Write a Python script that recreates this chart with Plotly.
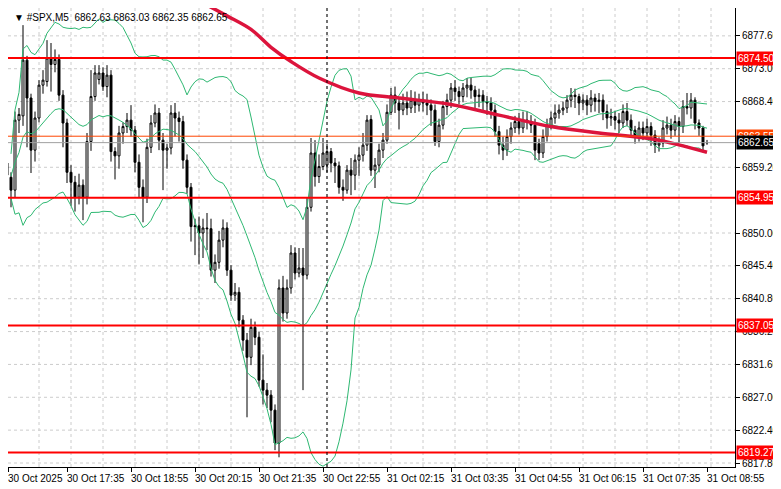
import numpy as np
import pandas as pd
import plotly.graph_objects as go

# M5 candles (bar index = position on the time axis)
opens = [6869.1, 6859.8, 6857.8, 6856.0, 6865.8, 6866.4, 6874.2, 6868.9, 6861.6, 6866.1,
         6870.7, 6871.2, 6874.5, 6873.6, 6874.3, 6869.3, 6865.4, 6858.5, 6857.1, 6855.0,
         6856.7, 6855.0, 6862.8, 6869.1, 6871.5, 6872.4, 6870.5, 6872.1, 6861.4, 6860.8,
         6864.0, 6864.9, 6865.8, 6864.4, 6859.9, 6856.4, 6855.0, 6862.0, 6865.4, 6866.8,
         6863.0, 6861.6, 6861.9, 6866.8, 6866.1, 6865.6, 6860.2, 6856.4, 6850.9, 6851.0,
         6850.0, 6850.7, 6850.6, 6844.8, 6845.9, 6849.0, 6850.7, 6844.8, 6841.3, 6841.7,
         6837.8, 6835.0, 6832.6, 6836.8, 6835.4, 6829.4, 6828.0, 6827.3, 6825.2, 6820.6,
         6842.3, 6838.8, 6842.3, 6847.2, 6844.4, 6845.1, 6844.1, 6853.6, 6861.2, 6857.9,
         6859.3, 6859.5, 6861.4, 6859.8, 6859.4, 6856.4, 6856.0, 6858.8, 6858.1, 6860.2,
         6860.9, 6862.3, 6865.9, 6858.8, 6859.5, 6861.6, 6863.0, 6866.9, 6869.3, 6868.2,
         6867.2, 6868.2, 6867.5, 6868.6, 6867.9, 6868.6, 6868.2, 6867.9, 6867.2, 6862.8,
         6865.1, 6867.7, 6868.6, 6870.3, 6869.8, 6869.1, 6870.3, 6870.7, 6870.0, 6869.1,
         6869.3, 6868.4, 6868.2, 6867.2, 6864.2, 6862.3, 6861.6, 6863.5, 6864.7, 6865.6,
         6864.7, 6865.8, 6865.6, 6865.1, 6862.5, 6861.2, 6863.5, 6865.1, 6866.1, 6866.8,
         6867.2, 6867.5, 6868.6, 6869.3, 6869.1, 6868.2, 6868.6, 6867.9, 6868.9, 6868.4,
         6868.6, 6867.0, 6866.1, 6866.3, 6865.8, 6865.4, 6867.0, 6865.8, 6864.4, 6863.5,
         6864.7, 6864.0, 6864.9, 6863.7, 6862.3, 6862.6, 6864.7, 6865.1, 6864.4, 6865.6,
         6864.9, 6867.7, 6867.5, 6868.6, 6865.4, 6864.7, 6862.63]
highs = [6871.4, 6861.0, 6858.5, 6867.0, 6867.5, 6879.1, 6874.8, 6869.5, 6867.0, 6871.4,
         6872.8, 6877.0, 6876.6, 6875.7, 6875.0, 6870.0, 6866.0, 6859.5, 6858.0, 6858.3,
         6857.5, 6864.0, 6872.8, 6873.5, 6873.5, 6873.2, 6873.5, 6872.8, 6862.0, 6865.0,
         6865.5, 6866.8, 6867.9, 6865.0, 6861.0, 6857.5, 6863.2, 6866.5, 6868.0, 6867.5,
         6864.0, 6862.5, 6867.9, 6868.2, 6867.0, 6866.4, 6861.0, 6857.0, 6852.0, 6852.3,
         6852.0, 6852.8, 6852.0, 6847.0, 6850.3, 6851.9, 6851.5, 6845.5, 6843.0, 6842.4,
         6838.5, 6836.0, 6838.0, 6837.6, 6836.2, 6833.0, 6829.0, 6828.0, 6826.0, 6843.5,
         6844.0, 6843.5, 6848.3, 6848.0, 6847.9, 6847.9, 6855.0, 6863.3, 6863.0, 6861.0,
         6863.3, 6862.5, 6861.9, 6860.5, 6860.0, 6857.5, 6859.5, 6860.5, 6861.0, 6862.0,
         6864.0, 6866.5, 6866.5, 6860.5, 6862.5, 6864.0, 6868.0, 6870.3, 6870.5, 6869.0,
         6869.5, 6869.8, 6870.0, 6869.8, 6869.5, 6869.8, 6869.5, 6868.7, 6868.0, 6866.0,
         6868.5, 6869.5, 6871.0, 6871.4, 6870.5, 6871.0, 6871.7, 6871.7, 6870.6, 6870.2,
         6870.0, 6869.2, 6869.0, 6868.0, 6865.0, 6863.5, 6864.5, 6865.5, 6866.4, 6866.8,
         6867.0, 6867.0, 6866.5, 6866.0, 6863.2, 6864.5, 6866.0, 6867.0, 6868.0, 6868.0,
         6868.4, 6869.3, 6870.3, 6870.2, 6869.5, 6869.4, 6869.3, 6870.0, 6869.5, 6869.6,
         6869.4, 6868.0, 6867.4, 6867.1, 6866.8, 6868.0, 6868.2, 6866.6, 6865.0, 6865.6,
         6865.6, 6866.0, 6865.5, 6864.4, 6863.4, 6865.8, 6866.3, 6866.0, 6866.5, 6866.2,
         6868.6, 6869.6, 6869.6, 6869.0, 6865.9, 6865.0, 6863.03]
lows = [6858.5, 6857.0, 6853.6, 6855.0, 6864.0, 6865.0, 6862.0, 6858.4, 6860.0, 6865.5,
        6869.5, 6870.5, 6869.8, 6872.5, 6868.5, 6862.0, 6857.0, 6853.8, 6853.0, 6854.0,
        6851.8, 6854.0, 6861.5, 6868.5, 6870.8, 6869.9, 6869.0, 6860.0, 6857.5, 6859.0,
        6862.5, 6864.0, 6863.5, 6858.5, 6855.0, 6851.5, 6854.2, 6861.2, 6864.8, 6861.6,
        6856.0, 6859.0, 6861.0, 6863.5, 6862.8, 6859.0, 6855.5, 6848.8, 6846.9, 6845.6,
        6846.5, 6847.6, 6843.9, 6843.0, 6845.0, 6848.0, 6844.0, 6840.5, 6840.5, 6836.8,
        6833.5, 6824.2, 6831.5, 6834.3, 6828.5, 6826.0, 6825.5, 6823.5, 6819.6, 6818.6,
        6837.6, 6838.0, 6841.5, 6843.5, 6843.8, 6828.0, 6843.5, 6853.0, 6856.5, 6857.0,
        6858.8, 6858.5, 6858.5, 6857.0, 6855.5, 6854.5, 6855.5, 6855.3, 6856.0, 6858.0,
        6860.0, 6861.5, 6858.0, 6856.3, 6858.5, 6860.5, 6862.5, 6866.5, 6866.8, 6864.5,
        6866.5, 6866.5, 6866.8, 6866.8, 6867.0, 6867.0, 6866.5, 6865.0, 6862.2, 6862.0,
        6864.5, 6866.5, 6867.5, 6868.5, 6868.0, 6868.3, 6869.0, 6868.8, 6867.5, 6867.6,
        6867.0, 6866.5, 6866.0, 6863.5, 6861.0, 6860.2, 6860.8, 6862.5, 6864.0, 6863.8,
        6864.0, 6864.5, 6864.0, 6860.2, 6860.2, 6860.5, 6862.8, 6864.5, 6865.3, 6866.0,
        6866.5, 6866.8, 6867.6, 6867.5, 6866.5, 6867.2, 6866.5, 6866.9, 6867.0, 6866.8,
        6865.8, 6864.6, 6865.0, 6864.5, 6864.0, 6864.7, 6865.0, 6863.5, 6862.5, 6862.8,
        6863.0, 6863.4, 6862.2, 6861.2, 6861.4, 6862.0, 6863.8, 6863.2, 6863.6, 6862.6,
        6864.0, 6866.6, 6866.0, 6864.5, 6863.6, 6861.3, 6862.35]
closes = [6859.8, 6858.1, 6856.0, 6865.8, 6866.6, 6874.2, 6868.9, 6861.6, 6866.1, 6870.7,
          6871.4, 6874.5, 6873.6, 6874.3, 6869.3, 6865.4, 6858.5, 6857.1, 6855.0, 6856.7,
          6855.0, 6862.8, 6869.1, 6872.4, 6872.4, 6870.5, 6872.1, 6861.4, 6860.8, 6864.0,
          6864.9, 6865.8, 6864.4, 6859.9, 6856.4, 6855.0, 6862.0, 6865.4, 6866.8, 6863.0,
          6861.6, 6861.9, 6866.8, 6866.1, 6865.6, 6860.2, 6856.4, 6850.9, 6851.0, 6850.0,
          6850.7, 6850.6, 6844.8, 6845.9, 6849.0, 6850.7, 6844.8, 6841.3, 6841.7, 6837.8,
          6835.0, 6832.6, 6836.8, 6835.4, 6829.4, 6828.0, 6827.3, 6825.2, 6820.6, 6842.3,
          6838.8, 6842.3, 6847.2, 6844.4, 6845.1, 6844.1, 6853.6, 6861.2, 6857.9, 6859.3,
          6861.2, 6861.4, 6859.8, 6859.4, 6856.4, 6856.0, 6858.8, 6858.1, 6860.2, 6860.9,
          6862.3, 6865.8, 6858.8, 6859.5, 6861.6, 6863.0, 6866.9, 6869.3, 6868.2, 6867.2,
          6868.2, 6867.5, 6868.6, 6867.9, 6868.6, 6868.2, 6867.9, 6867.2, 6862.8, 6865.1,
          6867.7, 6868.6, 6870.3, 6869.8, 6869.1, 6870.3, 6870.7, 6870.0, 6869.1, 6869.3,
          6868.4, 6868.2, 6867.2, 6864.2, 6862.3, 6861.6, 6863.5, 6864.7, 6865.6, 6864.7,
          6865.8, 6865.6, 6865.1, 6861.6, 6861.2, 6863.5, 6865.1, 6866.1, 6866.8, 6867.2,
          6867.5, 6868.6, 6869.3, 6869.1, 6868.2, 6868.6, 6867.9, 6868.9, 6868.4, 6868.6,
          6867.0, 6866.1, 6866.3, 6865.8, 6865.4, 6867.0, 6865.8, 6864.4, 6863.5, 6864.7,
          6864.0, 6864.9, 6863.7, 6862.3, 6862.6, 6864.7, 6865.1, 6864.4, 6865.6, 6864.9,
          6867.7, 6867.5, 6868.6, 6865.4, 6864.7, 6862.2, 6862.65]

# slow moving average, read at a few points (bar index, price)
ma_idx = [49, 56, 62, 67, 72, 79, 89, 99, 112, 124, 137, 149, 162, 170, 176]
ma_val = [6882.5, 6880.4, 6878.5, 6876.0, 6874.0, 6871.7, 6869.6, 6868.9, 6868.0,
          6866.5, 6864.9, 6864.0, 6863.2, 6862.2, 6861.3]

# horizontal levels
levels = [6874.50, 6854.95, 6837.05, 6819.27]
ask_price = 6863.55
bid_price = 6862.65

tick_idx = [1.25, 16, 32, 48, 64, 80, 96, 112, 128, 144, 160, 176]
tick_txt = ['30 Oct 2025', '30 Oct 17:35', '30 Oct 18:55', '30 Oct 20:15', '30 Oct 21:35',
            '30 Oct 22:55', '31 Oct 02:15', '31 Oct 03:35', '31 Oct 04:55', '31 Oct 06:15',
            '31 Oct 07:35', '31 Oct 08:55']
price_ticks = [6877.60, 6873.00, 6868.40, 6859.20, 6850.00, 6845.40, 6840.80,
               6836.20, 6831.60, 6827.00, 6822.40, 6817.80]

FONT = 'Liberation Sans'

x = np.arange(len(closes))
c = pd.Series(closes)
mid = c.rolling(20, min_periods=3).mean()
sd = c.rolling(20, min_periods=3).std(ddof=0)
upper = mid + 2 * sd
lower = mid - 2 * sd

fig = go.Figure()
green = '#2eb872'
for band in (upper, mid, lower):
    fig.add_trace(go.Scatter(x=x, y=band, mode='lines', line=dict(color=green, width=1),
                             hoverinfo='skip', showlegend=False))

fig.add_trace(go.Candlestick(
    x=x, open=opens, high=highs, low=lows, close=closes,
    increasing=dict(fillcolor='white', line=dict(color='black', width=1)),
    decreasing=dict(fillcolor='black', line=dict(color='black', width=1)),
    whiskerwidth=0, showlegend=False))

fig.add_trace(go.Scatter(x=ma_idx, y=ma_val, mode='lines',
                         line=dict(color='#dc143c', width=3.5, shape='spline'),
                         showlegend=False))

grid = dict(color='#cccccc', width=1, dash='3px,3px')
for t in price_ticks:
    fig.add_hline(y=t, line=grid, layer='below')
for i in range(0, 184, 8):
    fig.add_vline(x=i + 1, line=grid, layer='below')

fig.add_hline(y=ask_price, line=dict(color='#ff4500', width=1))
fig.add_hline(y=bid_price, line=dict(color='#a0a0a0', width=1))
for lv in levels:
    fig.add_hline(y=lv, line=dict(color='#ff0000', width=2))
fig.add_vline(x=81, line=dict(color='black', width=1, dash='dot'))

def price_tag(y, text, bg):
    fig.add_annotation(x=1.0, xref='paper', y=y, yref='y', xanchor='left', text=text,
                       showarrow=False, bgcolor=bg, font=dict(color='white', size=10, family=FONT),
                       borderpad=1, xshift=1)

for lv in levels:
    price_tag(lv, f'{lv:.2f}', '#ff0000')
price_tag(ask_price, f'{ask_price:.2f}', '#ff4500')
price_tag(bid_price, f'{bid_price:.2f}', 'black')

# time labels sit to the right of their tick
for i, t in zip(tick_idx, tick_txt):
    fig.add_annotation(x=i, y=0, xref='x', yref='paper', yanchor='top', xanchor='left',
                       text=t, showarrow=False, yshift=-4, xshift=-2,
                       font=dict(size=10, color='black', family=FONT))

fig.add_annotation(x=0.005, y=0.995, xref='paper', yref='paper', xanchor='left', yanchor='top',
                   text='▼ #SPX,M5  6862.63 6863.03 6862.35 6862.65', showarrow=False,
                   font=dict(size=10, color='black', family=FONT))

fig.update_layout(
    width=772, height=480, margin=dict(l=0, r=45, t=0, b=21),
    plot_bgcolor='white', paper_bgcolor='white',
    font=dict(family=FONT, size=10, color='black'),
    xaxis=dict(range=[1.25, 183], tickvals=tick_idx, ticktext=[''] * len(tick_idx), showgrid=False,
               rangeslider=dict(visible=False), showline=True, linecolor='black', mirror=True,
               ticks='outside', ticklen=4, tickcolor='black', zeroline=False),
    yaxis=dict(range=[6817.24, 6881.5], side='right', tickvals=price_ticks,
               ticktext=[f'{t:.2f}' for t in price_ticks], showgrid=False,
               showline=True, linecolor='black', mirror=True, ticks='outside', ticklen=4,
               tickcolor='black', zeroline=False, tickfont=dict(size=10, family=FONT)),
)

fig.write_html('out.html')
